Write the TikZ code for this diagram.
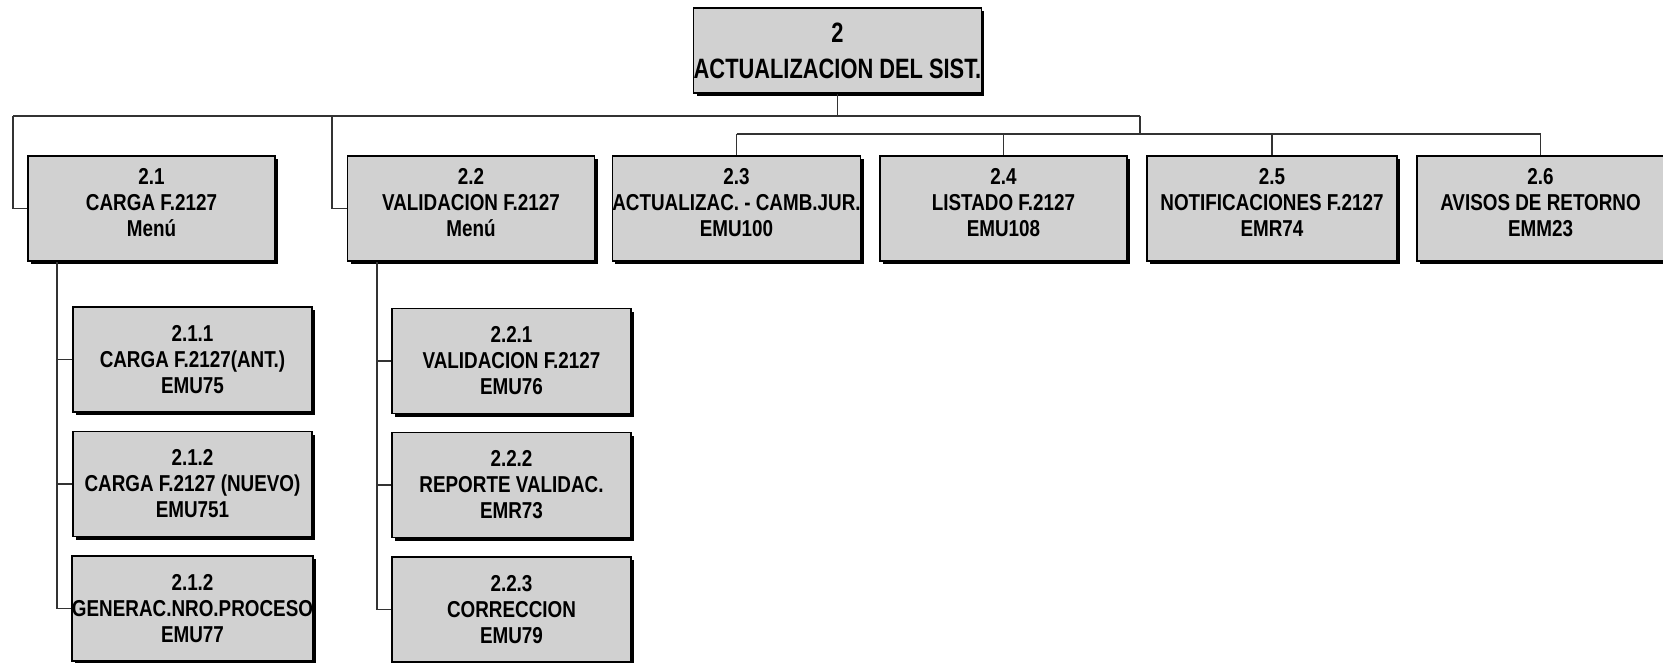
\documentclass[tikz,border=0pt]{standalone}
\usepackage{fontspec}
\setmainfont{Liberation Sans}[FakeStretch=0.82]
\newfontfamily\topfont{Liberation Sans}[FakeStretch=0.78]
\usetikzlibrary{shadows}
\definecolor{boxfill}{gray}{0.82}
\definecolor{linec}{gray}{0.2}
\newcommand{\dropfix}{\rule[-12pt]{0pt}{0pt}}
\tikzset{
  bx/.style={draw=black, line width=1.2pt, fill=boxfill, align=center, inner sep=0pt,
    general shadow={fill=black, shadow xshift=3pt, shadow yshift=-3pt},
    font=\fontsize{23}{26}\selectfont\bfseries},
  rowbox/.style={bx, minimum width=247pt, minimum height=105pt},
  subbox/.style={bx, minimum width=239pt, minimum height=105pt},
  conn/.style={draw=linec, line width=1.5pt}
}
\begin{document}
\begin{tikzpicture}[x=1pt,y=-1pt]
\useasboundingbox (0,0) rectangle (1663,663);
% top box
\node[bx, minimum width=285pt, minimum height=85pt, font=\topfont\fontsize{28}{36}\selectfont\bfseries] (top) at (837.5,50.5) {2\\ACTUALIZACION DEL SIST.};
% row 1
\node[rowbox] (n21) at (151.5,208.5) {2.1\\CARGA F.2127\\Menú\dropfix};
\node[rowbox] (n22) at (471,208.5) {2.2\\VALIDACION F.2127\\Menú\dropfix};
\node[rowbox] (n23) at (736.5,208.5) {2.3\\ACTUALIZAC. - CAMB.JUR.\\EMU100\dropfix};
\node[rowbox] (n24) at (1003.5,208.5) {2.4\\LISTADO F.2127\\EMU108\dropfix};
\node[rowbox, minimum width=250pt] (n25) at (1272,208.5) {2.5\\NOTIFICACIONES F.2127\\EMR74\dropfix};
\node[rowbox] (n26) at (1540.5,208.5) {2.6\\AVISOS DE RETORNO\\EMM23\dropfix};
% sub boxes column 1
\node[subbox] (n211) at (192.5,359.5) {2.1.1\\CARGA F.2127(ANT.)\\EMU75};
\node[subbox] (n212) at (192.5,484) {2.1.2\\CARGA F.2127 (NUEVO)\\EMU751};
\node[subbox] (n213) at (192.5,608.5) {2.1.2\\GENERAC.NRO.PROCESO\\EMU77};
% sub boxes column 2
\node[subbox] (n221) at (511.5,361) {2.2.1\\VALIDACION F.2127\\EMU76};
\node[subbox] (n222) at (511.5,485) {2.2.2\\REPORTE VALIDAC.\\EMR73};
\node[subbox] (n223) at (511.5,609.5) {2.2.3\\CORRECCION\\EMU79};
% connectors
\coordinate (h1) at (13,116);
\coordinate (h2) at (1140,116);
\coordinate (j22) at (332,116);
\coordinate (j2) at (1140,134);
\coordinate (s1) at (57,262);
\coordinate (s2) at (377,262);
\draw[conn] (top.south) -- (top.south |- h1);
\draw[conn] (h1) -- (h2);
\draw[conn] (h1) |- (n21.west);
\draw[conn] (j22) |- (n22.west);
\draw[conn] (h2) -- (j2);
\draw[conn] (n23.north |- j2) -- (n26.north |- j2);
\draw[conn] (n23.north |- j2) -- (n23.north);
\draw[conn] (n24.north |- j2) -- (n24.north);
\draw[conn] (n25.north |- j2) -- (n25.north);
\draw[conn] (n26.north |- j2) -- (n26.north);
\draw[conn] (s1) |- (n213.west);
\draw[conn] (s1 |- n211.west) -- (n211.west);
\draw[conn] (s1 |- n212.west) -- (n212.west);
\draw[conn] (s2) |- (n223.west);
\draw[conn] (s2 |- n221.west) -- (n221.west);
\draw[conn] (s2 |- n222.west) -- (n222.west);
\end{tikzpicture}
\end{document}
